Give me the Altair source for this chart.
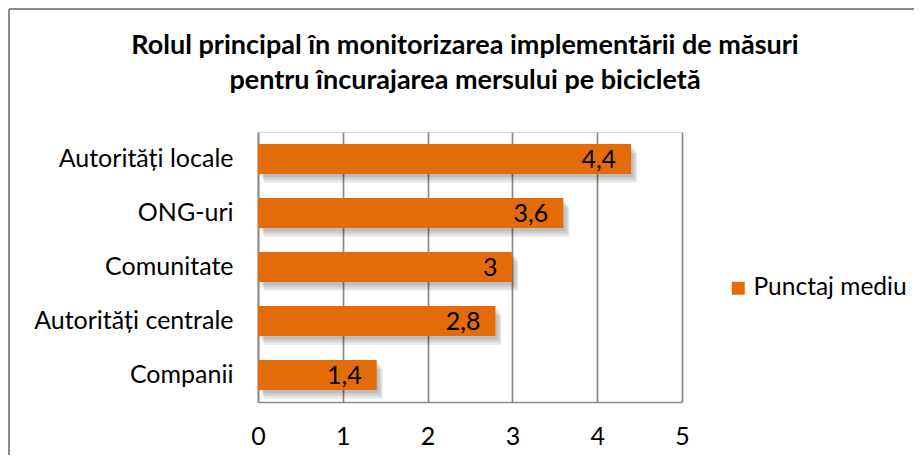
import altair as alt
import pandas as pd

categories = ["Autorități locale", "ONG-uri", "Comunitate", "Autorități centrale", "Companii"]
values = [4.4, 3.6, 3.0, 2.8, 1.4]
series_name = "Punctaj mediu"
x_ticks = [0, 1, 2, 3, 4, 5]

df = pd.DataFrame({"cat": categories, "val": values, "serie": [series_name] * len(categories)})

FONT = "Lato"
ORANGE = "#E36C09"
GRAY = "#8A8A8A"

y_enc = alt.Y("cat:N", sort=categories, title=None,
              scale=alt.Scale(paddingInner=0.444, paddingOuter=0.222),
              axis=alt.Axis(labelFont=FONT, labelFontSize=25, labelColor="#000000",
                            labelPadding=25, labelLimit=400, ticks=False, domain=True,
                            domainColor=GRAY, domainWidth=1.7, grid=False))
x_enc = alt.X("val:Q", title=None,
              scale=alt.Scale(domain=[0, 5], nice=False),
              axis=alt.Axis(values=x_ticks, format="d", labelFont=FONT, labelFontSize=25,
                            labelColor="#000000", labelPadding=22, labelFlush=False,
                            ticks=False, domain=True, domainColor=GRAY, domainWidth=1.7,
                            grid=True, gridColor=GRAY, gridWidth=1.7))

base = alt.Chart(df)

shadows = [
    base.mark_bar(color="#000000", opacity=0.07, xOffset=off_x, yOffset=off_y).encode(x=x_enc, y=y_enc)
    for off_x, off_y in [(6, 9), (5, 7), (4, 5), (2, 3)]
]

bars = base.mark_bar(color=ORANGE).encode(
    x=x_enc, y=y_enc,
    fill=alt.Fill("serie:N", scale=alt.Scale(range=[ORANGE]),
                  legend=alt.Legend(title=None, orient="none", legendX=468, legendY=144,
                                    labelFont=FONT, labelFontSize=24.5, labelColor="#000000",
                                    symbolType="square", symbolSize=169, symbolStrokeWidth=0,
                                    labelOffset=3)),
)

labels = base.transform_calculate(
    lbl="replace(format(datum.val, '.1~f'), '.', ',')"
).mark_text(align="right", baseline="middle", dx=-15, dy=1, font=FONT, fontSize=25,
            color="#000000").encode(x="val:Q", y=alt.Y("cat:N", sort=categories), text="lbl:N")

frame_left = alt.Chart(df).mark_rule(color=GRAY, strokeWidth=1.5).encode(
    x=alt.value(-249), y=alt.value(-123), y2=alt.value(330))
frame_top = alt.Chart(df).mark_rule(color=GRAY, strokeWidth=1.5).encode(
    x=alt.value(-249), x2=alt.value(656), y=alt.value(-123))

chart = alt.layer(frame_left, frame_top, *shadows, bars, labels).properties(
    width=424, height=270,
    autosize=alt.AutoSizeParams(type="none"),
    padding={"left": 250, "top": 124, "right": 232, "bottom": 53},
    title=alt.TitleParams(
        ["Rolul principal în monitorizarea implementării de măsuri",
         "pentru încurajarea mersului pe bicicletă"],
        font=FONT, fontSize=27, fontWeight="bold", color="#000000",
        lineHeight=35, anchor="middle", frame="group", offset=0, dx=-5, dy=87),
).configure_view(stroke=None).configure(background="white")

chart.save("out.html", embed_options={"renderer": "svg", "actions": False})
